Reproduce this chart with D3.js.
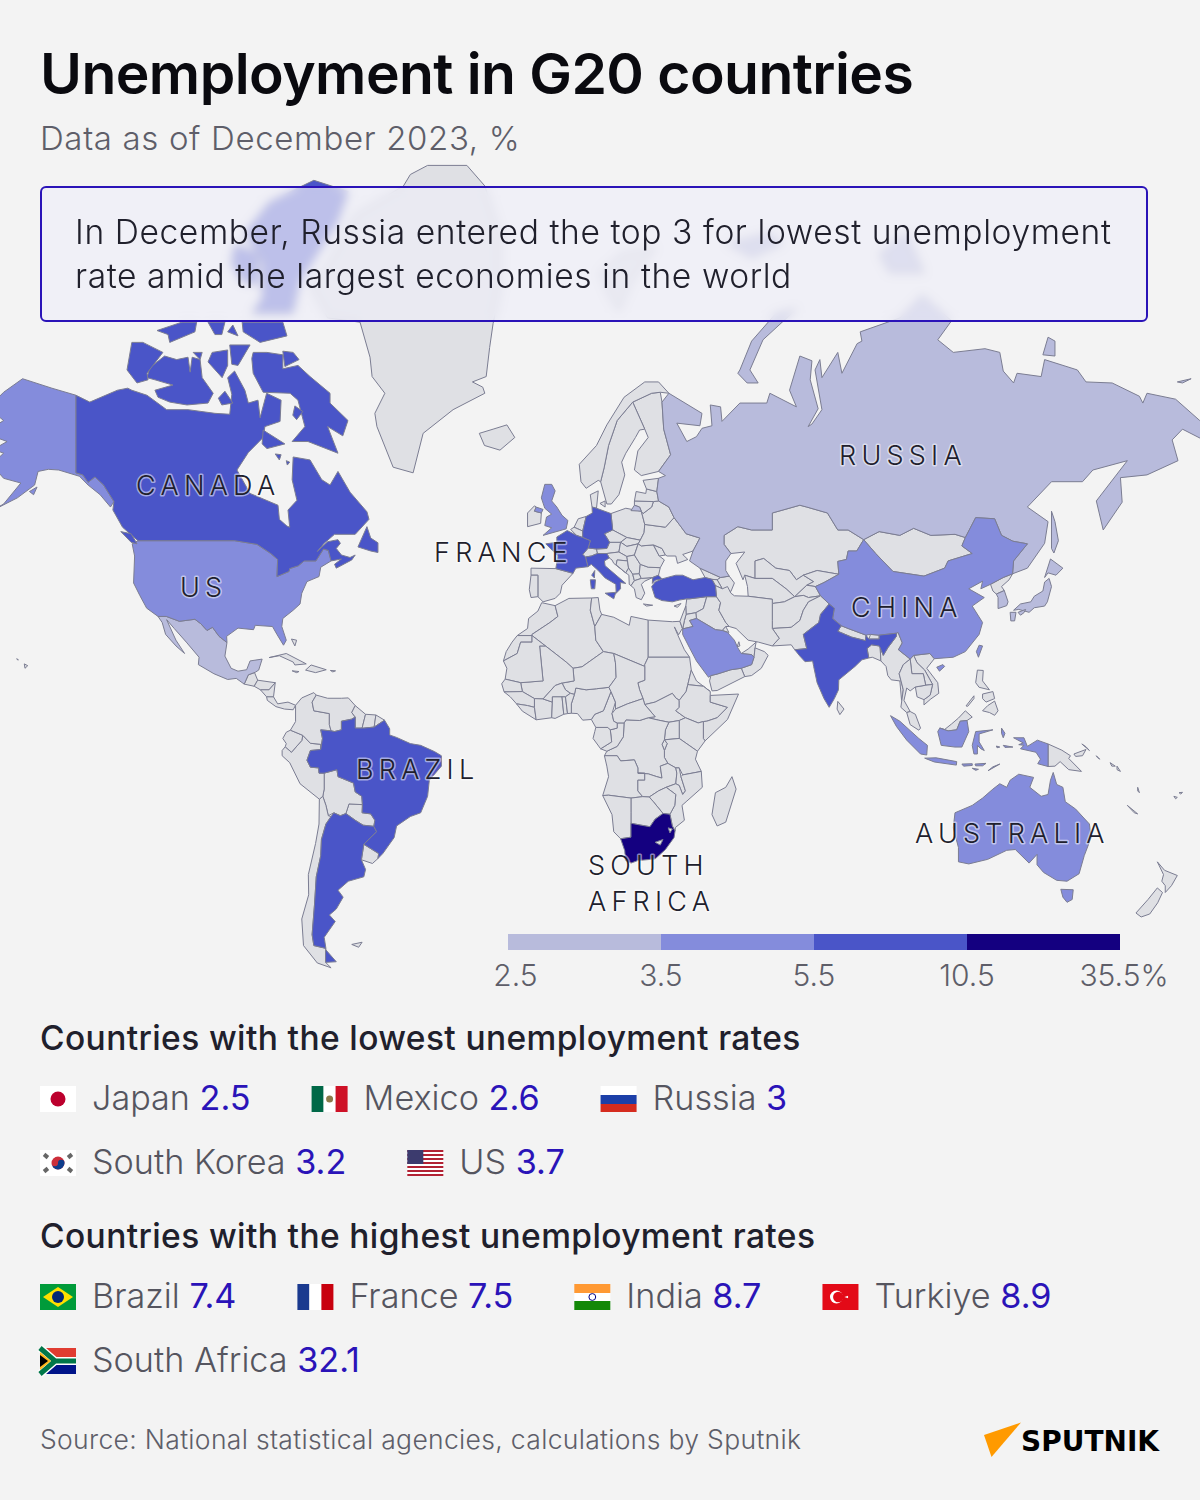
<!DOCTYPE html>
<html><head><meta charset="utf-8">
<script src="https://cdn.jsdelivr.net/npm/d3@7/dist/d3.min.js"></script>
<style>
html,body{margin:0;padding:0;background:#f3f3f3;}
#wrap{position:relative;width:1200px;height:1500px;overflow:hidden;font-family:Inter,"Noto Sans",sans-serif;}
svg{position:absolute;left:0;top:0;}
#callout{position:absolute;left:40px;top:186px;width:1104px;height:132px;border:2px solid #2a13b8;border-radius:6px;background:rgba(238,238,248,.7);backdrop-filter:blur(5px);-webkit-backdrop-filter:blur(5px);}
#callout div{position:absolute;left:33px;top:22px;font-size:33.6px;line-height:44px;font-weight:300;color:#20202c;letter-spacing:.58px;white-space:nowrap;}
</style></head><body><div id="wrap"></div>
<script>
// ---- rates (G20 %; the map colour bands give the others)
const levelBreaks=[3.5,5.5,10.5];
const levelColors=["#b8bbdc","#848cdc","#4a55c8","#140080"];
const noData="#dfe0e4";
const legendStops=["2.5","3.5","5.5","10.5","35.5%"];
const lowestNames=["Japan","Mexico","Russia","South Korea","US"];
const lowestValues=["2.5","2.6","3","3.2","3.7"];
const highestNames=["Brazil","France","India","Turkiye","South Africa"];
const highestValues=["7.4","7.5","8.7","8.9","32.1"];
// ---- outlines, [lon,lat]
const canada=[[-141,69.7],[-137,69],[-129,70.2],[-126,70.4],[-124.8,70.2],[-120.4,69.7],[-114.7,68.2],[-108.5,68.2],[-100.7,67.8],[-96.4,67.7],[-95.8,69.8],[-97,71.4],[-95,72],[-92,70.2],[-91,68.9],[-88.2,69.2],[-87.6,67.3],[-85.7,69.9],[-81.5,69.2],[-81.8,66.9],[-86.2,66.3],[-86.7,65],[-91,63.1],[-94.3,60.7],[-90.5,57.2],[-82.4,55.3],[-82,52.9],[-79.8,51.7],[-79,51.5],[-79.5,54.5],[-76.9,56.1],[-78.3,59.3],[-78,62.5],[-73.1,62.1],[-69.7,59.3],[-67.3,58.5],[-65,60.5],[-61.5,57.4],[-56.6,54.2],[-56,52.9],[-60,50.2],[-66,50.2],[-69,48.5],[-71,46.9],[-68,48.8],[-65,49.2],[-64.3,48.5],[-65.5,47.5],[-64,46.2],[-61.5,45.7],[-60,46.2],[-61,45.2],[-65.5,43.5],[-66,44.3],[-64,45.4],[-67,45],[-67.8,47.1],[-69.2,47.4],[-71.4,45],[-74.8,45],[-76.5,44],[-79,43.4],[-79.2,42.8],[-82.7,41.7],[-82.5,45.3],[-84.5,46.5],[-88.5,48.3],[-95,49],[-123,49],[-124.8,50],[-127.5,51.5],[-130.3,54.5],[-130,55.9],[-133,58.5],[-135.5,59.7],[-137.5,58.9],[-139,60],[-141,60.3]];
const baffin=[[-90,73.1],[-89.6,71.8],[-86.7,70],[-78.9,69.9],[-76.6,69.2],[-74.6,66.3],[-78.3,64.5],[-73.7,64.5],[-65,63],[-66.5,64.7],[-68,66.3],[-63.6,65.2],[-62.1,67],[-67.3,68.9],[-67.3,69.9],[-73.1,71.5],[-76.6,72.5],[-81,72.2],[-81,73.4],[-85.6,73.6],[-89.6,73.6]];
const bylot=[[-81,73.7],[-78,73.6],[-76.3,73],[-80.4,72.4]];
const princeCharles=[[-77.5,68.6],[-75.2,68],[-77,67.1],[-78.1,67.6]];
const victoria=[[-119.6,72.3],[-115.3,73.3],[-111.8,73],[-108.5,73.2],[-107.9,71.9],[-107.3,73.2],[-105,73],[-104.4,71.4],[-101.2,69.9],[-102.7,68.9],[-108.8,68.7],[-113.8,69],[-117.2,69.5],[-118.1,70.2],[-112.9,70.7],[-118.1,71.2],[-120.4,71.4]];
const banks=[[-124.8,74.4],[-121.6,74.4],[-115.8,73.6],[-120.4,71.8],[-120.1,71.2],[-123.3,70.9],[-126.2,72.1]];
const ellesmere=[[-90,76.5],[-78,76.5],[-76,78.5],[-65,81.5],[-62,82.7],[-72,83.1],[-85,82.3],[-92,81],[-87,79.5],[-87,77.5]];
const devon=[[-92.8,75.9],[-81,75.9],[-79.8,74.9],[-87.6,74.4],[-92.5,75.2]];
const somerset=[[-96.4,74.2],[-90.5,74.2],[-94,72.5],[-95.8,72.6]];
const princeWales=[[-101.5,73.6],[-97,73.8],[-97,72.5],[-98.6,71.4],[-102.7,72.8]];
const stefansson=[[-107,73.6],[-104.4,73.6],[-105,73]];
const kingWilliam=[[-99.7,69.4],[-97.8,70.1],[-95.5,68.9],[-98.7,68.7]];
const melville=[[-117.5,75.3],[-110.3,75.9],[-106,75.9],[-106.5,75.2],[-113.8,74.4],[-114.3,75]];
const bathurst=[[-102.7,75.9],[-97.8,75.9],[-98.7,75],[-100.7,75]];
const cornwallis=[[-95.5,75.7],[-94,74.9],[-97,75.2]];
const heiberg=[[-95,80.5],[-88,80],[-88,78.3],[-93,78.5],[-96,79.5]];
const southampton=[[-86.7,65.9],[-85.6,65.6],[-80.4,64.2],[-85.6,63.6],[-87,64.2]];
const coats=[[-83.2,62.9],[-81.5,62.8],[-82,62.1]];
const mansel=[[-80,62],[-79,61.8],[-79.7,61.4]];
const newfoundland=[[-56.6,51.6],[-55.5,49.5],[-53.4,48.6],[-53.4,46.7],[-55.5,47],[-59.2,47.8]];
const vancouver=[[-128,50.7],[-125,50.3],[-123.3,48.4],[-125,48.7]];
const alaska=[[-141,69.7],[-148,70.4],[-156.5,71.3],[-162,70],[-166.5,68.4],[-162,67],[-164,66.5],[-168,65.6],[-161,64.5],[-165,63.5],[-162,63],[-165.5,61.5],[-162,59.5],[-157,58.8],[-162,55.5],[-165,54.5],[-158,56.5],[-153,58.5],[-152,60.5],[-149,60.8],[-146,60.7],[-140,59.8],[-137.5,58.5],[-134,57],[-131,55],[-130,55.9],[-133,58.5],[-135.5,59.7],[-137.5,58.9],[-139,60],[-141,60.3]];
const kodiak=[[-154.5,57.5],[-152.3,58.2],[-153.3,57]];
const usa=[[-123,49],[-95,49],[-88.5,48.3],[-84.5,46.5],[-82.5,45.3],[-82.7,41.7],[-79.2,42.8],[-79,43.4],[-76.5,44],[-74.8,45],[-71.4,45],[-69.2,47.4],[-67.8,47.1],[-67,45],[-70,43.7],[-70.5,41.7],[-74,40.6],[-75.5,38],[-76,35.5],[-78,34],[-81,32],[-81.3,30],[-80,26.5],[-80.8,25.2],[-82.7,28],[-84,30],[-89,30.3],[-89.5,29.2],[-94,29.6],[-97.3,27.5],[-97.2,25.9],[-99.5,27.5],[-101.4,29.8],[-103,29],[-104.8,30.7],[-106.5,31.8],[-111,31.3],[-114.8,32.5],[-117.2,32.5],[-120.5,34.5],[-122.5,37.5],[-124.3,40.3],[-124,46],[-124.7,48.4]];
const hawaii=[[-156,20.2],[-155,19.7],[-155.8,19]];
const oahu=[[-158.2,21.6],[-157.7,21.3],[-158,21.3]];
const mexico=[[-117.2,32.5],[-114.8,32.5],[-111,31.3],[-106.5,31.8],[-104.8,30.7],[-103,29],[-101.4,29.8],[-99.5,27.5],[-97.2,25.9],[-97.8,22.3],[-96,19],[-94,18.2],[-91.5,18.6],[-90.5,21],[-87,21.5],[-88,18.5],[-89,17.9],[-91,17.2],[-92.2,14.6],[-94.5,16.2],[-97,15.9],[-101,17.5],[-105.5,20],[-105.3,22],[-109,26],[-112.5,29.5],[-114.7,31.7],[-112,26.5],[-109.5,23],[-112,25],[-115,28],[-116,31]];
const guatemala=[[-92.2,14.6],[-91,17.2],[-89.2,17.8],[-88.3,15.7],[-89.3,14]];
const honduras=[[-89.3,14],[-88.3,15.7],[-83.2,15],[-85,13],[-87.5,13]];
const nicaragua=[[-83.2,15],[-83.7,11],[-85.7,11],[-87.5,13],[-85,13]];
const panama=[[-85.7,11],[-83.7,11],[-82.5,9],[-79.5,9.5],[-77.3,8.6],[-78,7.3],[-80.5,7.5],[-83,8.2],[-85.5,10]];
const cuba=[[-85,21.9],[-80,23],[-74.2,20.2],[-77.5,19.9],[-78,20.7],[-82,22.4]];
const hispaniola=[[-74.4,18.5],[-72.8,19.9],[-68.4,18.6],[-71.5,17.8]];
const jamaica=[[-78.3,18.3],[-76.3,18.1],[-77,17.8]];
const puertoRico=[[-67.2,18.4],[-65.7,18.3],[-66.5,18]];
const bahamas=[[-78.5,26.8],[-77,26.5],[-77.5,25]];
const greenland=[[-73,78.2],[-68,79.5],[-60,81.8],[-46,82.9],[-44,83.3],[-39,83.6],[-27.6,83.6],[-22.4,82.9],[-18,81],[-18,78],[-20,75.8],[-21,74],[-22,71.5],[-26,71],[-23,70.5],[-22.4,69.9],[-31.6,68.2],[-40.3,65.5],[-43.2,60.3],[-49,61.1],[-53.7,66.3],[-54.3,67.8],[-51.4,69.9],[-55.1,71.5],[-55.7,73.2],[-58.6,75.9],[-68,76.2]];
const iceland=[[-24,65.5],[-20,66],[-16,66.5],[-13.7,65],[-18,63.4],[-22.5,64]];
const brazil=[[-51.5,4.3],[-50,1.8],[-50,0],[-48,-0.7],[-44,-2.5],[-41,-3],[-37,-4.8],[-35,-6],[-35,-9],[-38.5,-13],[-39,-17.5],[-41,-22],[-44,-23],[-48,-25.5],[-48.7,-28.5],[-52,-32.5],[-53.4,-33.7],[-53.2,-32.5],[-57.5,-30.2],[-53.8,-27],[-54.6,-25.6],[-54.3,-24],[-55.5,-22.3],[-58,-22],[-57.9,-19.8],[-58.1,-17.5],[-60,-16.3],[-60.5,-13.8],[-65,-12],[-65.3,-10],[-69,-11],[-70.5,-11],[-70.6,-9.5],[-73,-9.3],[-74,-7.3],[-73,-4.5],[-70,-4.2],[-69.5,-1],[-70,1.5],[-67,1.2],[-66,1],[-64,1.5],[-64,4],[-61,4.6],[-60,5.2],[-60,2],[-58,2],[-57.5,2],[-54.5,2.3]];
const argentina=[[-66.2,-22],[-64.3,-22.8],[-62.7,-22.2],[-60,-24],[-57.7,-25.3],[-54.6,-25.6],[-53.8,-27],[-57.5,-30.2],[-58.2,-34],[-57,-36.3],[-57.5,-38],[-62,-39],[-65,-41],[-63.5,-42.5],[-65.5,-45],[-67.5,-46.2],[-65.8,-47.5],[-69,-50.5],[-68.5,-52.5],[-72,-52],[-72.5,-50],[-71.8,-44],[-71.3,-38],[-70,-33],[-69.8,-29],[-68.5,-25],[-67,-23]];
const fuegoAr=[[-68.6,-52.7],[-65.5,-54.8],[-68.6,-54.9]];
const uruguay=[[-57.5,-30.2],[-53.2,-32.5],[-53.4,-33.7],[-55,-34.9],[-58.2,-34]];
const paraguay=[[-62.7,-22.2],[-61.8,-19.6],[-57.9,-19.8],[-58,-22],[-55.5,-22.3],[-54.3,-24],[-54.6,-25.6],[-57.7,-25.3],[-60,-24]];
const bolivia=[[-69,-11],[-65.3,-10],[-65,-12],[-60.5,-13.8],[-60,-16.3],[-58.1,-17.5],[-57.9,-19.8],[-61.8,-19.6],[-62.7,-22.2],[-64.3,-22.8],[-66.2,-22],[-67.8,-22.8],[-68.5,-20],[-69.4,-17.5],[-69,-15.5]];
const chile=[[-69.4,-17.5],[-68.5,-20],[-67.8,-22.8],[-67,-23],[-68.5,-25],[-69.8,-29],[-70,-33],[-71.3,-38],[-71.8,-44],[-72.5,-50],[-72,-52],[-68.5,-52.5],[-68.6,-54.9],[-67,-55.8],[-71,-55],[-75,-52],[-75.5,-47],[-73.5,-42],[-73.6,-37.5],[-71.5,-30],[-70.5,-25],[-70.4,-18.3]];
const peru=[[-81.2,-4.5],[-80.3,-3.4],[-78.5,-5],[-75.5,-1.6],[-75.2,-0.1],[-73,-2.4],[-70,-2.7],[-70,-4.2],[-73,-4.5],[-74,-7.3],[-73,-9.3],[-70.6,-9.5],[-70.5,-11],[-69,-11],[-69,-15.5],[-69.4,-17.5],[-70.4,-18.3],[-76,-14],[-79,-8],[-81.2,-6]];
const ecuador=[[-80.3,-3.4],[-80,-2.5],[-81,-1],[-80,0.8],[-78.8,1.4],[-75.2,-0.1],[-75.5,-1.6],[-78.5,-5]];
const colombia=[[-78.8,1.4],[-77.3,3.9],[-77.3,8.6],[-75.5,10.7],[-72,12.2],[-71.3,11.5],[-72.5,9.5],[-72,7],[-67.5,6.2],[-67.5,3],[-67,1.2],[-70,1.5],[-69.5,-1],[-70,-4.2],[-70,-2.7],[-73,-2.4],[-75.2,-0.1]];
const venezuela=[[-71.3,11.5],[-68,10.6],[-64,10.6],[-62,10.7],[-60,8.5],[-61,6.5],[-60,5.2],[-61,4.6],[-64,4],[-64,1.5],[-66,1],[-67,1.2],[-67.5,3],[-67.5,6.2],[-72,7],[-72.5,9.5]];
const guyana=[[-60,8.5],[-57,6],[-58,2],[-60,2],[-60,5.2],[-61,6.5]];
const suriname=[[-57,6],[-54,5.8],[-54.5,2.3],[-57.5,2],[-58,2]];
const guiana=[[-54,5.8],[-51.5,4.3],[-54.5,2.3]];
const falkland=[[-61,-51.8],[-58,-51.4],[-59,-52.3]];
const morocco=[[-5.9,35.8],[-2,35.1],[-1.2,32.5],[-3.5,31],[-8.7,28],[-8.7,27.7],[-13,27.7],[-10,29.5],[-9.7,32],[-7,33.8]];
const wsahara=[[-13,27.7],[-8.7,27.7],[-8.7,26],[-12,26],[-13,23],[-17,21],[-16.2,23.5],[-14.5,26]];
const algeria=[[-2,35.1],[2,36.8],[8.6,36.9],[8.2,34],[9.5,30],[9.8,26.5],[12,23.5],[5.8,19.4],[3.2,19],[1.2,20.7],[-4.8,25],[-8.7,27.7],[-8.7,28],[-3.5,31],[-1.2,32.5]];
const tunisia=[[8.6,36.9],[10.5,37],[11,34],[11.5,33],[9.5,30],[8.2,34]];
const libya=[[11.5,33],[15,32.3],[19.5,30.3],[20,32.5],[25,31.6],[25,22],[24,20],[24,19.5],[15,23],[12,23.5],[9.8,26.5],[9.5,30]];
const egypt=[[25,31.6],[32,31.2],[34.2,31.3],[34.9,29.5],[33.8,27.9],[32.6,29.9],[33.5,28],[35.5,24],[37,22],[25,22]];
const sudan=[[25,22],[37,22],[37.5,18.5],[36.5,14.5],[36,12.5],[34,10],[33,10.7],[32,12],[27,9.5],[24,8.8],[23.5,10.5],[22.5,13],[22,15],[24,15.7],[24,20]];
const ssudan=[[24,8.8],[27,9.5],[32,12],[33,10.7],[34,10],[34,8],[33,7],[35.8,5],[34,4.2],[31,3.7],[28,4.3],[25,5],[27,5.3]];
const eritrea=[[37.5,18.5],[39,15.5],[43,12.5],[41,14],[37,14.4],[36.5,14.5]];
const ethiopia=[[36.5,14.5],[37,14.4],[41,14],[43,12.5],[43,11.4],[43,9.5],[48,8],[45,5],[42,4],[41,3.9],[39.5,3.5],[35.8,5],[33,7],[34,8],[34,10],[36,12.5]];
const somalia=[[43,11.4],[51.2,11.8],[48,4.5],[41.5,-1.7],[41,-1],[41,3.9],[42,4],[45,5],[48,8],[43,9.5]];
const kenya=[[41,3.9],[41,-1],[41.5,-1.7],[39.3,-4.7],[34,-1],[34,4.2],[35.8,5],[39.5,3.5]];
const uganda=[[34,4.2],[34,-1],[29.7,-1.4],[30,1.5],[31,3.7]];
const tanzania=[[34,-1],[39.3,-4.7],[38.7,-7],[40.4,-10.5],[35,-11.5],[34,-9.5],[33,-9.5],[30.7,-8.2],[29.7,-6.5],[29.7,-4.5],[30.5,-2.5],[29.7,-1.4]];
const rwanda=[[29.7,-1.4],[30.5,-2.5],[29.7,-4.5],[29,-2.7]];
const drc=[[30,1.5],[29.7,-1.4],[29,-2.7],[29.7,-4.5],[29.7,-6.5],[30.7,-8.2],[28.5,-9],[29,-12.4],[27.5,-12],[25,-11.2],[22,-11],[22,-9.5],[21,-7.2],[17,-7.5],[16,-6],[12.3,-6],[13,-4.7],[16,-3.3],[17.8,-0.5],[18,3.5],[18.6,4.4],[22.5,4.2],[25,5],[28,4.3],[31,3.7]];
const congo=[[11.2,-4],[13,-4.7],[16,-3.3],[17.8,-0.5],[18,3.5],[16,3.5],[16,2],[14,1.5],[14.4,-2]];
const gabon=[[9.5,1],[9.8,2.2],[13.3,2.2],[14,1.5],[14.4,-2],[11.2,-4],[9,-1]];
const cameroon=[[8.5,4.5],[9.8,2.2],[13.3,2.2],[14,1.5],[16,2],[16,3.5],[15,4],[14.5,6.2],[15.5,9.5],[14.2,12.5],[13,9.5],[12,7],[9.5,6]];
const nigeria=[[2.7,6.3],[4.5,6.2],[6,4.3],[8.5,4.5],[9.5,6],[12,7],[13,9.5],[14.2,12.5],[13.6,13.7],[10,13.3],[7,13],[4,13.5],[3.6,11.7],[2.7,9]];
const niger=[[3.2,19],[5.8,19.4],[12,23.5],[15,23],[15.5,20.5],[15.7,16.5],[13.6,13.7],[10,13.3],[7,13],[4,13.5],[3.6,11.7],[2.4,12],[1,13],[0,14.9],[3.5,15.5]];
const chad=[[15,23],[24,19.5],[24,15.7],[22,15],[22.5,13],[23.5,10.5],[19,9],[15.5,7.5],[15.5,9.5],[14.2,12.5],[13.6,13.7],[15.7,16.5],[15.5,20.5]];
const car=[[15,4],[16,3.5],[18,3.5],[18.6,4.4],[22.5,4.2],[25,5],[27,5.3],[24,8.8],[23.5,10.5],[19,9],[15.5,7.5],[14.5,6.2]];
const mali=[[-4.8,25],[1.2,20.7],[3.2,19],[3.5,15.5],[0,14.9],[-2,14.2],[-5.5,10.4],[-8,10.5],[-11.5,12.5],[-12,15],[-6,15.5],[-5.5,15.5],[-6.5,25]];
const mauritania=[[-8.7,27.7],[-4.8,25],[-6.5,25],[-5.5,15.5],[-12,15],[-16.5,16],[-16,19],[-17,21],[-13,23],[-12,26],[-8.7,26]];
const senegal=[[-16.5,16],[-12,15],[-11.5,12.5],[-16.8,12.4],[-17.5,14.7]];
const guinea=[[-15,11],[-16.8,12.4],[-11.5,12.5],[-8,10.5],[-8,8],[-10,8.5],[-13.2,9]];
const liberia=[[-13.2,9],[-10,8.5],[-8,8],[-7.5,4.4],[-11.5,6.9]];
const ivory=[[-8,10.5],[-5.5,10.4],[-2.8,9.5],[-3,5],[-7.5,4.4],[-8,8]];
const burkina=[[-5.5,10.4],[-2,14.2],[0,14.9],[1,13],[2.4,12],[1,11],[0,11],[-2.8,11],[-2.8,9.5]];
const ghana=[[-2.8,11],[0,11],[0.5,6],[-2,4.8],[-3,5],[-2.8,9.5]];
const togo=[[0,11],[1,11],[1.6,6.2],[0.5,6]];
const benin=[[1,11],[2.4,12],[3.6,11.7],[2.7,9],[2.7,6.3],[1.6,6.2]];
const angola=[[12.3,-6],[16,-6],[17,-7.5],[21,-7.2],[22,-9.5],[22,-11],[24,-11],[24,-13],[22,-13],[22,-16],[23.4,-17.6],[20,-18],[13.5,-17.2],[11.8,-17.3],[13.5,-12],[13,-9]];
const zambia=[[22,-11],[25,-11.2],[27.5,-12],[29,-12.4],[28.5,-9],[30.7,-8.2],[33,-9.5],[33.3,-11],[33,-14],[30.2,-15],[28,-16],[25.3,-17.7],[23.4,-17.6],[22,-16],[22,-13],[24,-13],[24,-11]];
const malawi=[[33,-9.5],[34,-9.5],[34.5,-12],[35.8,-16],[35,-17],[34,-14.5],[33,-14],[33.3,-11]];
const mozambique=[[35,-11.5],[40.4,-10.5],[40.7,-15],[36,-19],[34.8,-20],[35.5,-24],[32.9,-25.9],[32.8,-26.8],[32,-25.5],[31.3,-22.4],[32.7,-20],[33,-17],[30.2,-15],[33,-14],[34,-14.5],[35,-17],[35.8,-16],[34.5,-12]];
const zimbabwe=[[25.3,-17.7],[28,-16],[30.2,-15],[33,-17],[32.7,-20],[31.3,-22.4],[29.3,-22.2],[26.5,-19]];
const botswana=[[20,-18],[23.4,-17.6],[25.3,-17.7],[26.5,-19],[29.3,-22.2],[27,-23.7],[25.5,-25.7],[23,-25.3],[20,-24.8],[20,-22]];
const namibia=[[11.8,-17.3],[13.5,-17.2],[20,-18],[20,-22],[20,-28.4],[17,-28.8],[15,-27],[14.5,-22.5]];
const southAfrica=[[17,-28.8],[20,-28.4],[20,-24.8],[23,-25.3],[25.5,-25.7],[27,-23.7],[29.3,-22.2],[31.3,-22.4],[32,-25.5],[32.8,-26.8],[32.5,-28.5],[30,-31.5],[27,-33.8],[22,-34.2],[20,-34.8],[18.4,-34.2],[18.2,-31.8]];
const lesotho=[[27,-29.7],[29.3,-29],[28.5,-30.4]];
const eswatini=[[30.8,-26],[32,-26.3],[31.3,-27.3]];
const madagascar=[[49.3,-12],[50.5,-15.5],[47.5,-24.5],[45,-25.5],[43.5,-22.5],[44.5,-16.5],[47.5,-15]];
const spain=[[-9,43.5],[-1.8,43.4],[3.2,42.4],[0,39.8],[-0.5,38],[-2,36.8],[-5.5,36],[-7,37.2],[-7,42],[-9,42]];
const portugal=[[-9,42],[-7,42],[-7,37.2],[-9,37],[-9.5,38.8]];
const france=[[-1.8,43.4],[-1.2,46],[-4.7,48.4],[-1.5,48.7],[-1.5,49.7],[1.5,50.9],[4.2,50],[6,49.6],[8.2,49],[7.6,47.6],[6,46.3],[6.8,45.8],[7.5,43.8],[4,43.5],[3.2,42.4]];
const corsica=[[8.6,42],[9.5,43],[9.4,41.4]];
const uk=[[-5,58.6],[-3,58.6],[-2,57.6],[-3,56],[-1.5,55],[0,53.6],[1.7,52.7],[1.2,51.2],[-5.5,50],[-3,51.4],[-5,51.8],[-4.5,53.3],[-3,53.8],[-5,54.8],[-6,56.5]];
const nIreland=[[-7.5,55],[-5.5,54.6],[-6,54],[-8,54.3]];
const ireland=[[-10,54],[-8,55.2],[-7.5,55],[-8,54.3],[-6,54],[-6.2,52.2],[-10,51.6]];
const netherlands=[[3.5,51.5],[4.7,53],[7,53.4],[6,50.8]];
const belgium=[[2.5,51.1],[3.5,51.5],[6,50.8],[6,49.6],[4.2,50]];
const germany=[[6,50.8],[7,53.4],[8.8,54],[8.7,55],[10,54.8],[14.2,53.9],[14.7,51],[12.3,50.3],[13.8,48.7],[13,47.5],[10,47.4],[7.6,47.6],[8.2,49],[6,49.6]];
const denmark=[[8.2,57],[10.5,57.6],[10,54.8],[8.7,55]];
const zealand=[[11,55.6],[12.5,56],[12.5,55]];
const swiss=[[6,46.3],[7.6,47.6],[10,47.4],[10.3,46.5],[8.5,46],[6.8,45.8]];
const austria=[[10,47.4],[13,47.5],[13.8,48.7],[17,48.7],[16.5,46.8],[13,46.5],[10.3,46.5]];
const italy=[[7.5,43.8],[6.8,45.8],[8.5,46],[10.3,46.5],[13,46.5],[13.7,45.6],[12.3,45],[12.5,44],[16,41.8],[18.5,40.2],[16.9,40.4],[17,39],[15.7,38],[15.6,40],[12.5,41.4],[10.5,43],[8.5,44.3]];
const sicily=[[12.5,38],[15.6,38.2],[15,36.7]];
const sardinia=[[8.2,41],[9.7,41],[9.5,39],[8.5,39]];
const poland=[[14.2,53.9],[18.5,54.8],[23,54.3],[24,52],[23.8,50.5],[22.7,49.1],[18.8,49.6],[14.7,51]];
const czechia=[[12.3,50.3],[14.7,51],[18.8,49.6],[17,48.7],[13.8,48.7]];
const slovakia=[[17,48.7],[18.8,49.6],[22.7,49.1],[22.1,48.4],[18.8,47.9]];
const hungary=[[16.5,46.8],[17,48.7],[18.8,47.9],[22.1,48.4],[21,46.2],[18.8,45.9]];
const croatia=[[13.7,45.6],[13,46.5],[16.5,46.8],[18.8,45.9],[19,45],[16,45.2],[15.7,44.2],[18.5,42.5],[15,44.5],[14.5,45.2]];
const bosnia=[[16,45.2],[19,45],[19.3,43.5],[18.5,42.5],[15.7,44.2]];
const serbia=[[18.8,45.9],[21,46.2],[22.7,44.3],[22.4,42.3],[20.5,42.2],[19.3,43.5],[19,45]];
const albania=[[18.5,42.5],[19.3,43.5],[20.5,42.2],[21,40.8],[20,39.7],[19.5,40],[19.4,42]];
const macedonia=[[20.5,42.2],[22.4,42.3],[23,41.3],[21,40.8]];
const greece=[[21,40.8],[23,41.3],[26.3,41.5],[24,40.7],[23,40],[24,38],[23,36.5],[21.5,37],[21,39],[20,39.7]];
const crete=[[23.6,35.5],[26.3,35.2],[24.5,35]];
const bulgaria=[[22.7,44.3],[25,43.7],[28.5,43.6],[28,42],[26.3,41.5],[23,41.3],[22.4,42.3]];
const romania=[[21,46.2],[22.1,48.4],[23,48],[26.5,48.2],[28.2,46],[29.7,45.2],[28.5,43.6],[25,43.7],[22.7,44.3]];
const moldova=[[26.5,48.2],[29,47.5],[30,46.2],[28.2,46]];
const ukraine=[[24,52],[30,51.5],[32.5,53.2],[34,52],[36,50.3],[40,49.5],[38,47],[35,46.3],[36.5,45.3],[33.5,44.5],[33,46],[30.5,46],[30,46.2],[29,47.5],[26.5,48.2],[23,48],[22.1,48.4],[22.7,49.1],[23.8,50.5]];
const belarus=[[24,52],[30,51.5],[32.5,53.2],[31,55],[28,56],[26.5,55.9],[26,55],[23.5,53.9],[23,54.3]];
const lithuania=[[21,56],[26.5,55.9],[26,55],[23.5,53.9],[23,54.3],[22.5,55],[21,55.3]];
const kaliningrad=[[20,54.4],[23,54.3],[22.5,55],[21,55.3]];
const latvia=[[21,56],[21.5,57.5],[24.3,57.2],[24.5,57.9],[27.5,57.5],[28,56],[26.5,55.9]];
const estonia=[[23.5,59.2],[28,59.5],[27.5,57.5],[24.5,57.9]];
const finland=[[21,60.7],[23,59.9],[28,60.5],[31.5,62.8],[29.5,66],[29,69],[28.5,70],[26,69.9],[20.5,69],[24,66],[25,65],[22,63.3]];
const sweden=[[11.2,59],[13,55.5],[14.3,55.5],[16.5,57],[18.2,60],[17.3,61.8],[18.5,63],[21.3,65],[22.5,65.9],[24,66],[20.5,69],[16,67],[13.5,64],[12.2,61]];
const norway=[[5,61.5],[5.5,59],[7,58],[10.5,59.2],[11.2,59],[12.2,61],[13.5,64],[16,67],[20.5,69],[26,69.9],[28.5,70],[31,69.9],[28,71],[24,71],[18,69.5],[13,66.5],[10,64]];
const svalbard=[[11,79],[17,80],[27,80.3],[20,78.4],[16.5,76.7],[14,77.5]];
const russia=[[31,69.9],[40.6,67.8],[40,66.4],[33.3,66.7],[36.2,64.5],[39,65.1],[40.6,66.1],[43.5,66.4],[43,68.7],[46,68.5],[46.4,66.9],[51.6,68.9],[59.4,68.9],[60.3,69.9],[68,68.5],[66,70.2],[69,73.3],[72.5,72.9],[72,71.2],[74.3,68.3],[71.4,66.3],[72.5,66.6],[75.4,68.2],[73.4,72.1],[74.8,73],[75.4,71.4],[80,73.6],[81.2,71.8],[85.6,74.3],[87,74.5],[86.5,75.2],[98,76.2],[104.5,77.7],[113,76],[109,74.6],[113.5,73.6],[122.7,73.9],[127,73.6],[128,72],[131,70.9],[132,71.8],[139,71.5],[140,73],[149.5,72.1],[152,71],[159.6,70.9],[167.5,69.6],[168.5,68.9],[169.7,69.9],[178,69.3],[185,67],[189.9,66],[187,64.5],[180,66],[177,64.7],[178.7,62],[169.7,60],[162,59.6],[162.5,55.8],[157,51],[155,56],[164,62],[154,60.7],[151,59],[142,59],[135,55],[141,52.5],[140,48.5],[135,43.5],[130.7,42.3],[131,45],[135,48.4],[130.8,48.9],[127.5,50],[125.5,53],[120,53.2],[117,49.6],[114,50.2],[107,50],[102,51.3],[98,50],[92,50.7],[87.5,49.2],[83,51],[80,51],[77,54],[71,55],[69,55.3],[61,54],[61,51],[55,51],[51,51.6],[47,50],[47,48.3],[49,46.5],[47.5,45],[47.5,43],[48.5,41.8],[46,41.5],[40,43.5],[37,45],[38,47],[40,49.5],[36,50.3],[34,52],[32.5,53.2],[31,55],[28,56],[27.5,57.5],[28,59.5],[30,59.9],[28,60.5],[31.5,62.8],[29.5,66],[29,69]];
const novaya=[[51.6,72.1],[51,71.8],[53.7,70.9],[56.9,70.9],[54.5,72.1],[58.3,74.6],[68,76.8],[62,76.5],[55,74.5]];
const sakhalin=[[142,54.3],[143,52.5],[144,49],[142.7,46.6],[142,47.5],[142,51]];
const siberianIs=[[139.5,73.4],[143,73.3],[143,74.5],[141,74.8]];
const wrangel=[[178.5,71],[182.5,71.3],[180,70.9]];
const franzJosef=[[48,80.5],[60,81],[64,80.5],[55,79.8]];
const severnaya=[[92,80],[100,81],[105,79],[95,79]];
const kazakhstan=[[47,50],[51,51.6],[55,51],[61,51],[61,54],[69,55.3],[71,55],[77,54],[80,51],[83,51],[87.5,49.2],[85.5,47],[83,47],[82.5,45.3],[80,44.9],[80.3,42.2],[74,43],[70,42],[68,41],[66,43],[62,43.5],[58.5,45.5],[56,45],[56,41.3],[53,42],[52.5,41],[50.5,44.5],[53,46.8],[49,46.5],[47,48.3]];
const uzbekistan=[[56,45],[58.5,45.5],[62,43.5],[66,43],[68,41],[70,42],[73,40.6],[71,39.8],[67.5,37.2],[65,39],[61,41.3],[56,41.3]];
const turkmenistan=[[53,42],[56,41.3],[61,41.3],[65,39],[67.5,37.2],[64.5,36],[61,35.6],[61,36.6],[54,37.3],[53.8,39.5]];
const kyrgyz=[[70,42],[74,43],[80.3,42.2],[76,40.4],[73.5,39.5],[71,39.8],[73,40.6]];
const tajik=[[67.5,37.2],[71,39.8],[73.5,39.5],[75,37.4],[71.5,37],[70,37.5]];
const afghanistan=[[61,35.6],[64.5,36],[67.5,37.2],[70,37.5],[71.5,37],[75,37.4],[71.5,36],[70,34],[69,31.5],[66.5,29.8],[61,29.5],[61,31.5]];
const pakistan=[[61,25],[66.5,25.3],[67.5,24],[71,24.3],[70,28],[74.5,31],[75,33],[77.5,35.5],[75,37.4],[71.5,36],[70,34],[69,31.5],[66.5,29.8],[61,29.5],[63,27]];
const india=[[67.5,24],[71,24.3],[70,28],[74.5,31],[75,33],[77.5,35.5],[79,34.5],[78.5,32],[81,30.2],[80,28.8],[84,27.3],[88,26.4],[88.2,27.8],[89,26.8],[92,26.8],[92,27.8],[97,28.3],[97,27.5],[94.5,24.5],[93.2,22.5],[92.3,24.5],[92,25],[89.8,25.3],[88.5,24.3],[89,21.8],[87,21.3],[85,19.5],[80.3,15.8],[80.2,13],[79,10.5],[77.5,8],[76,10.5],[74,15],[73,19.5],[72.7,21],[70.5,20.8],[69,22.3]];
const nepal=[[81,30.2],[80,28.8],[84,27.3],[88,26.4],[88.2,27.8],[83,29.5]];
const bangladesh=[[88.5,24.3],[89.8,25.3],[92,25],[92.3,24.5],[92.5,21],[90,22],[89,21.8]];
const bhutan=[[89,26.8],[92,26.8],[92,27.8],[89.5,28]];
const myanmar=[[92.5,21],[92.3,24.5],[93.2,22.5],[94.5,24.5],[97,27.5],[97,28.3],[97.5,28.5],[98.7,25.8],[97.6,24],[101,21.5],[99,20],[97.8,17.5],[99,13],[98.5,10],[98,15.5],[95.5,15.8],[94.5,17],[94,19.5]];
const sriLanka=[[80,9.7],[81.8,7.5],[80.6,5.9],[79.8,7.5]];
const china=[[73.5,39.5],[76,40.4],[80.3,42.2],[80,44.9],[82.5,45.3],[83,47],[85.5,47],[87.5,49.2],[91,46.5],[96,42.8],[105,41.8],[111,43.5],[112,45],[119,46.5],[116,48],[117,49.6],[120,53.2],[125.5,53],[127.5,50],[130.8,48.9],[135,48.4],[131,45],[130.7,42.3],[128,41.5],[124.3,40],[121.5,39],[122,40.7],[118,39],[122.5,37],[119,35],[122,31],[121,28],[117,23.5],[113.5,22],[108,21.6],[106.7,23],[102,22.5],[101,21.5],[97.6,24],[98.7,25.8],[97.5,28.5],[97,28.3],[92,27.8],[89.5,28],[88.2,27.8],[83,29.5],[81,30.2],[78.5,32],[79,34.5],[77.5,35.5],[75,37.4]];
const taiwan=[[121,25.2],[122,25],[120.8,22],[120.2,23.5]];
const hainan=[[108.7,19.3],[110.5,20],[111,19.5],[109.5,18.2]];
const mongolia=[[87.5,49.2],[92,50.7],[98,50],[102,51.3],[107,50],[114,50.2],[117,49.6],[116,48],[119,46.5],[112,45],[111,43.5],[105,41.8],[96,42.8],[91,46.5]];
const nKorea=[[130.7,42.3],[129.7,41],[127.5,39.5],[128.3,38.6],[126,37.8],[125,38.5],[124.3,40],[128,41.5]];
const sKorea=[[128.3,38.6],[129.4,36],[129,35.1],[126.5,34.4],[126.5,37],[126,37.8]];
const honshu=[[131,34],[133,35.5],[136,36],[137,37.3],[139.5,38.5],[140,40.5],[141.3,41.3],[142,39.5],[140.8,36],[140,35],[137,34.6],[135.5,33.5],[132.5,34.2]];
const hokkaido=[[140,41.5],[141.7,45.4],[145.3,43.5],[143.3,42],[141,42.5]];
const kyushu=[[130,33.5],[131.7,33.5],[131.3,31.4],[130.2,31.4]];
const shikoku=[[132.3,33.5],[134.5,34.2],[134,33.4],[133,32.8]];
const vietnam=[[102,22.5],[106.7,23],[108,21.6],[105.8,19],[109,15],[109.3,12],[107,10.4],[105,8.7],[105,10.2],[106.8,11.5],[107.5,14.5],[105.2,18.5],[103,20.5]];
const laos=[[101,21.5],[102,22.5],[103,20.5],[105.2,18.5],[107.5,14.5],[105.5,14.3],[104.8,17.5],[101.5,17.5]];
const cambodia=[[102.5,13.8],[105.5,14.3],[107.5,14.5],[106.8,11.5],[105,10.2],[103,11]];
const thailand=[[101,21.5],[101.5,17.5],[104.8,17.5],[105.5,14.3],[102.5,13.8],[101,12.7],[100,13.5],[99.2,10],[101,6.8],[100,6.5],[98.3,8],[99,13],[97.8,17.5],[99,20]];
const malaya=[[100,6.5],[101,6.8],[102.5,6],[104,2],[103.5,1.4],[101,3]];
const sabah=[[109.6,2],[111,1.6],[113,3.2],[115,4.9],[117,7],[119,5.2],[117.5,4.2],[115.5,4],[114.5,1.5],[112,1.2]];
const kalimantan=[[109,1],[109.6,2],[112,1.2],[114.5,1.5],[115.5,4],[117.5,4.2],[118,1],[116,-3.5],[114,-3.5],[110,-3]];
const sumatra=[[95.3,5.6],[98,4],[103.5,-1],[106,-3],[105.8,-5.8],[104,-5.5],[100,-1.5],[97,2.5]];
const java=[[105.2,-6.7],[108.5,-6.6],[114.5,-7.7],[114.4,-8.7],[108,-7.8]];
const sulawesi=[[119.5,-5.5],[119,-3],[120,1],[125,1.5],[121,0.3],[121,-2],[122.5,-4.5],[121.5,-4],[120.5,-3],[120.5,-5.5]];
const lombok=[[116,-8.4],[119,-8.3],[119,-8.8],[116.5,-9]];
const flores=[[119.8,-8.4],[123,-8.2],[122,-8.9],[120,-8.9]];
const sumba=[[119,-9.6],[120.8,-9.9],[120,-10.2]];
const timor=[[123.6,-10.3],[127,-8.4],[125,-9.2]];
const halmahera=[[127.5,2],[128.5,0.5],[128,-0.8],[127.5,0.5]];
const seram=[[128,-3],[130.8,-3.5],[128.5,-3.6]];
const buru=[[126,-3.2],[127,-3.5],[126.2,-3.7]];
const papua=[[131,-0.8],[134,-0.8],[135,-3.3],[137.9,-1.5],[141,-2.6],[141,-9.1],[138,-8.3],[138.8,-7],[137.5,-5],[133,-4],[134,-3],[132.5,-2.8],[133.8,-2.3]];
const png=[[141,-2.6],[145,-4.4],[147.5,-6],[147,-6.8],[150.7,-10.5],[147,-10],[144.5,-7.7],[143,-9],[141,-9.1]];
const newBritain=[[148.5,-5.5],[152,-4.2],[151,-6],[149,-6.2]];
const newIreland=[[150.8,-2.6],[153,-4.5],[152,-3.4]];
const solomon1=[[155,-6],[156,-7],[155.3,-6.5]];
const solomon2=[[159,-8],[160.5,-9],[159.5,-9]];
const solomon3=[[161,-9],[162,-10.5],[161,-10]];
const vanuatu=[[167,-15],[167.5,-16.5],[167,-16]];
const caledonia=[[164,-20],[167,-22.3],[166,-22]];
const fiji1=[[177.5,-17.5],[178.5,-17.8],[178,-18.2]];
const fiji2=[[179,-16.5],[180,-16.4],[179.5,-16.9]];
const luzon=[[120.5,18.5],[122.2,18.4],[122,15.5],[124,13],[121,13.7],[120,15]];
const mindanao=[[122,7],[123.5,8.5],[125.5,9.8],[126.5,7],[125.5,5.7],[124,6.5]];
const visayas=[[122,11.8],[125,12.5],[125.5,10.5],[123,9.5],[122,10.5]];
const palawan=[[117.2,8.4],[119.5,11.3],[119.5,10.5],[117.7,8.3]];
const australia=[[114,-22],[113.5,-26],[115,-31],[115,-34.5],[118,-35],[123.5,-33.9],[129,-31.7],[131.5,-31.5],[135.5,-34.8],[137.8,-32.7],[137.8,-35.2],[139.7,-37],[143.5,-38.8],[146.5,-39],[150,-37.3],[151.5,-33],[153.5,-28.5],[153,-25],[149,-21],[146,-19],[145.3,-15],[143.5,-14.2],[142.5,-10.8],[141.7,-13],[141,-17],[139,-17.5],[135.7,-15],[136.8,-12.2],[132.5,-11.3],[130,-13],[129,-15],[127,-14],[125,-15.5],[122,-18],[119,-20]];
const tasmania=[[144.7,-40.8],[148.3,-40.9],[148,-43],[146.5,-43.6],[145.3,-42.5]];
const nzNorth=[[172.7,-34.5],[174.8,-36.5],[178.5,-37.7],[176.8,-40],[175,-41.5],[175,-40],[174,-39],[174.5,-37.5]];
const nzSouth=[[172.7,-40.5],[174.2,-41.5],[172.8,-43.7],[170.5,-46],[168,-46.6],[166.5,-45.8],[170,-43]];
const turkey=[[26,39.5],[27,37],[29,36.3],[32,36],[34,36.4],[36.2,36.7],[37,36.7],[42,37.2],[44.8,37.2],[44.5,39.7],[43.5,41.1],[41.5,41.5],[38,41],[35,42],[33,42],[29,41.2],[27,40.5]];
const thrace=[[26.3,41.5],[28,42],[29,41.2],[27,40.9],[26.2,40.2]];
const georgia=[[40,43.5],[46,41.5],[45,41],[43.5,41.1],[41.5,41.5]];
const azerbaijan=[[46,41.5],[48.5,41.8],[50,40.3],[49,38.4],[46.5,39],[45,41]];
const armenia=[[43.5,41.1],[45,41],[46.5,39],[44.5,39.7]];
const syria=[[36.2,36.7],[37,36.7],[42,37.2],[41,34.4],[38.8,33.4],[36,33],[35.9,35]];
const iraq=[[42,37.2],[44.8,37.2],[46,35.8],[45.5,34],[47.5,31],[48.5,30],[47.5,30],[46.5,29],[44.5,29.2],[39,32],[38.8,33.4],[41,34.4]];
const iran=[[44.8,37.2],[44.5,39.7],[46.5,39],[48,39.5],[49,38],[50,37.4],[54,37.3],[61,36.6],[61,35.6],[61,31.5],[61,29.5],[63,27],[61,25],[57,26],[54,26.5],[50.5,29.5],[48.5,30],[47.5,31],[45.5,34],[46,35.8]];
const jordan=[[36,33],[38.8,33.4],[39,32],[37,31.5],[38,30],[35,29.4],[35.5,31.5]];
const levant=[[34.2,31.3],[35.9,35],[36,33],[35.5,31.5],[35,29.4]];
const saudi=[[35,29.4],[38,30],[37,31.5],[39,32],[44.5,29.2],[46.5,29],[48,28.5],[50,26.5],[51,24.5],[52,23],[55,22.7],[55.7,22],[55,20],[52,19],[49,18.6],[45,17.4],[43.2,17],[42.5,16.5],[39,21],[37,24.5],[35,28]];
const kuwait=[[46.5,29],[47.5,30],[48.4,28.5]];
const qatar=[[50.8,24.8],[51.3,26.1],[51.6,25]];
const uae=[[52,23],[54,24.2],[56.3,26],[56,24.5],[55.7,22],[55,22.7]];
const oman=[[56,24.5],[58.7,23.5],[59.8,22.5],[57.8,19],[55,17],[53,16.7],[52,19],[55,20],[55.7,22]];
const yemen=[[43.2,17],[45,17.4],[49,18.6],[52,19],[53,16.7],[45,12.8],[43.5,12.7],[42.8,15.5]];
const cyprus=[[32.5,35],[34.5,35.6],[33.5,34.7]];
// ---- unemployment per coloured country
const coloured=[
 ["Japan",2.5,[honshu,hokkaido,kyushu,shikoku]],["Mexico",2.6,[mexico]],
 ["Russia",3,[russia,novaya,sakhalin,siberianIs,wrangel,franzJosef,severnaya,kaliningrad]],
 ["South Korea",3.2,[sKorea]],["US",3.7,[alaska,kodiak,usa]],
 ["China",5,[china,taiwan,hainan]],["UK",3.9,[uk,nIreland]],["Saudi Arabia",4.9,[saudi]],
 ["Australia",3.9,[australia,tasmania]],
 ["Indonesia",5.3,[sumatra,java,kalimantan,sulawesi,lombok,flores,sumba,timor,halmahera,seram,buru,papua]],
 ["Germany",5.9,[germany]],["Canada",5.8,[canada,baffin,bylot,princeCharles,victoria,banks,ellesmere,devon,somerset,princeWales,stefansson,kingWilliam,melville,bathurst,cornwallis,heiberg,southampton,coats,mansel,newfoundland,vancouver]],
 ["Argentina",5.7,[argentina,fuegoAr]],["Italy",7.2,[italy,sicily,sardinia]],
 ["Brazil",7.4,[brazil]],["France",7.5,[france,corsica]],["India",8.7,[india]],
 ["Turkiye",8.9,[turkey,thrace]],["South Africa",32.1,[southAfrica]]
];
const others=[hawaii,oahu,guatemala,honduras,nicaragua,panama,cuba,hispaniola,jamaica,puertoRico,bahamas,greenland,iceland,uruguay,paraguay,bolivia,chile,peru,ecuador,colombia,venezuela,guyana,suriname,guiana,falkland,morocco,wsahara,algeria,tunisia,libya,egypt,sudan,ssudan,eritrea,ethiopia,somalia,kenya,uganda,tanzania,rwanda,drc,congo,gabon,cameroon,nigeria,niger,chad,car,mali,mauritania,senegal,guinea,liberia,ivory,burkina,ghana,togo,benin,angola,zambia,malawi,mozambique,zimbabwe,botswana,namibia,madagascar,spain,portugal,ireland,netherlands,belgium,denmark,zealand,swiss,austria,poland,czechia,slovakia,hungary,croatia,bosnia,serbia,albania,macedonia,greece,crete,bulgaria,romania,moldova,ukraine,belarus,lithuania,latvia,estonia,finland,sweden,norway,svalbard,kazakhstan,uzbekistan,turkmenistan,kyrgyz,tajik,afghanistan,pakistan,nepal,bangladesh,bhutan,myanmar,sriLanka,mongolia,nKorea,vietnam,laos,cambodia,thailand,malaya,sabah,png,newBritain,newIreland,solomon1,solomon2,solomon3,vanuatu,caledonia,fiji1,fiji2,luzon,mindanao,visayas,palawan,nzNorth,nzSouth,georgia,azerbaijan,armenia,syria,iraq,iran,jordan,levant,kuwait,qatar,uae,oman,yemen,cyprus];
const enclaves=[lesotho,eswatini];
const mapLabels=["CANADA","US","RUSSIA","FRANCE","CHINA","BRAZIL","AUSTRALIA","SOUTH","AFRICA"];

// ---- drawing
const wrap=d3.select("#wrap");
const svg=wrap.append("svg").attr("width",1200).attr("height",1500);
const projection=d3.geoMercator().rotate([-10,0]).scale(197.5).translate([596.5,735]);
const line=d3.line();
const shape=p=>line(p.map(c=>projection(c)))+"Z";
const colour=d3.scaleThreshold().domain(levelBreaks).range(levelColors);
const ink="#7b7d92";
const map=svg.append("g").attr("stroke",ink).attr("stroke-width",1).attr("stroke-linejoin","round");
map.selectAll("path.o").data(others).join("path").attr("class","o").attr("d",shape).attr("fill",noData);
const groups=map.selectAll("g.c").data(coloured).join("g").attr("class","c").attr("fill",d=>colour(d[1]));
groups.selectAll("path").data(d=>d[2]).join("path").attr("d",shape);
map.selectAll("path.e").data(enclaves).join("path").attr("class","e").attr("d",shape).attr("fill",noData);

// text helper
function txt(g,x,y,s,size,weight,fill,ls){return g.append("text").attr("x",x).attr("y",y).attr("font-size",size).attr("font-weight",weight).attr("fill",fill).attr("letter-spacing",ls||0).text(s);}
// map labels
const labelX=[136,180,839,434,851,356,915,588,588],labelY=[495,597,465,562,617,779,843,875,911];
svg.append("g").selectAll("text").data(mapLabels).join("text")
  .attr("x",(d,i)=>labelX[i]).attr("y",(d,i)=>labelY[i]).text(d=>d)
  .attr("font-size",27).attr("font-weight",300).attr("letter-spacing",5.25).attr("fill","#20202c")
  .attr("stroke","rgba(255,255,255,.5)").attr("stroke-width",3).attr("paint-order","stroke").attr("stroke-linejoin","round");

// legend
const legendX=d3.scalePoint().domain(legendStops).range([508,1120]);
const bands=d3.pairs(legendStops);
svg.append("g").selectAll("rect").data(bands).join("rect")
  .attr("x",d=>legendX(d[0])).attr("y",934).attr("height",16)
  .attr("width",d=>legendX(d[1])-legendX(d[0])).attr("fill",(d,i)=>levelColors[i]);
svg.append("g").selectAll("text").data(legendStops).join("text")
  .attr("x",(d,i)=>legendX(d)+(i===0?7.5:i===4?4:0)).attr("y",986).attr("text-anchor","middle")
  .attr("font-size",30).attr("font-weight",300).attr("fill","#5e5e69").text(d=>d);

// titles
txt(svg,40,94,"Unemployment in G20 countries",57,600,"#0a0a0f",-.55);
txt(svg,40,150,"Data as of December 2023, %",33,300,"#5e5e69",.64);
txt(svg,40,1050,"Countries with the lowest unemployment rates",33.5,450,"#20202c",.39);
txt(svg,40,1248,"Countries with the highest unemployment rates",33.5,450,"#20202c",.39);
txt(svg,40,1449,"Source: National statistical agencies, calculations by Sputnik",26.5,300,"#5e5e69",.32);

// flags
const flags={
 "Japan":g=>{r(g,0,0,36,26,"#fff");g.append("circle").attr("cx",18).attr("cy",13).attr("r",7.5).attr("fill","#bc002d");},
 "Mexico":g=>{r(g,0,0,12,26,"#006847");r(g,12,0,12,26,"#fff");r(g,24,0,12,26,"#ce1126");g.append("circle").attr("cx",18).attr("cy",13).attr("r",3.5).attr("fill","#8c7a4a");},
 "Russia":g=>{r(g,0,0,36,9,"#fff");r(g,0,9,36,9,"#1c3fa8");r(g,0,18,36,8,"#d52b1e");},
 "South Korea":g=>{r(g,0,0,36,26,"#fff");g.append("circle").attr("cx",18).attr("cy",13).attr("r",6.5).attr("fill","#cd2e3a");g.append("path").attr("d","M11.5 13a6.5 6.5 0 0 0 13 0a3.2 3.2 0 0 0-6.5 0a3.2 3.2 0 0 1-6.5 0Z").attr("fill","#0f3d8c");[[6,6,40],[30,6,-40],[6,20,-40],[30,20,40]].forEach(t=>r(g,-2.5,-2,5,4,"#666").attr("transform",`translate(${t[0]},${t[1]}) rotate(${t[2]})`));},
 "US":g=>{d3.range(13).forEach(i=>r(g,0,i*2,36,2,i%2?"#fff":"#b22234"));r(g,0,0,16,14,"#3c3b6e");},
 "Brazil":g=>{r(g,0,0,36,26,"#009b3a");g.append("path").attr("d","M18 3L33 13L18 23L3 13Z").attr("fill","#fedf00");g.append("circle").attr("cx",18).attr("cy",13).attr("r",6).attr("fill","#002776");},
 "France":g=>{r(g,0,0,12,26,"#1a3a8f");r(g,12,0,12,26,"#fff");r(g,24,0,12,26,"#c8000e");},
 "India":g=>{r(g,0,0,36,9,"#ff9933");r(g,0,9,36,8,"#fff");r(g,0,17,36,9,"#138808");g.append("circle").attr("cx",18).attr("cy",13).attr("r",3.4).attr("fill","none").attr("stroke","#000080");},
 "Turkiye":g=>{r(g,0,0,36,26,"#e30a17");g.append("circle").attr("cx",14).attr("cy",13).attr("r",6.5).attr("fill","#fff");g.append("circle").attr("cx",15.8).attr("cy",13).attr("r",5.2).attr("fill","#e30a17");g.append("path").attr("d","M22 13l3.6-1.2v2.4Z").attr("fill","#fff");},
 "South Africa":g=>{r(g,0,0,36,13,"#e03c31");r(g,0,13,36,13,"#001489");g.append("path").attr("d","M0 0L15 13L0 26").attr("fill","#000");g.append("path").attr("d","M0 0L15 13H36M0 26L15 13").attr("fill","none").attr("stroke","#fff").attr("stroke-width",8);g.append("path").attr("d","M0 0L15 13H36M0 26L15 13").attr("fill","none").attr("stroke","#007749").attr("stroke-width",5);g.append("path").attr("d","M0 4L11 13L0 22Z").attr("fill","#ffb81c");g.append("path").attr("d","M0 7L8 13L0 19Z").attr("fill","#000");}
};
function r(g,x,y,w,h,f){return g.append("rect").attr("x",x).attr("y",y).attr("width",w).attr("height",h).attr("fill",f);}
function row(names,values,rowY){
  let x=40;
  names.forEach((n,i)=>{
    const f=svg.append("g").attr("transform",`translate(${x},${rowY-12})`);
    flags[n](f);
    const t=svg.append("text").attr("x",x+52).attr("y",rowY+12).attr("font-size",34.2).attr("xml:space","preserve");
    t.append("tspan").attr("fill","#55555f").attr("font-weight",300).text(n+" ");
    t.append("tspan").attr("fill","#2a13b8").attr("font-weight",400).text(values[i]);
    x+=52+t.node().getComputedTextLength()+61;
  });
}
row(lowestNames.slice(0,3),lowestValues.slice(0,3),1098);
row(lowestNames.slice(3),lowestValues.slice(3),1162);
row(highestNames.slice(0,4),highestValues.slice(0,4),1296);
row(highestNames.slice(4),highestValues.slice(4),1360);

// logo
svg.append("path").attr("d",d3.line()([[984,1435],[1021,1422.5],[991.5,1457]])+"Z").attr("fill","#ff9a00");
svg.append("text").attr("x",1021).attr("y",1451).attr("font-family","'DejaVu Sans'").attr("font-weight",700).attr("font-size",28.5).attr("fill","#000").attr("textLength",138).attr("lengthAdjust","spacingAndGlyphs").text("SPUTNIK");

// callout, on top of the map so that it blurs what lies under it
const box=wrap.append("div").attr("id","callout").append("div");
box.html("In December, Russia entered the top 3 for lowest unemployment<br>rate amid the largest economies in the world");
</script></body></html>
